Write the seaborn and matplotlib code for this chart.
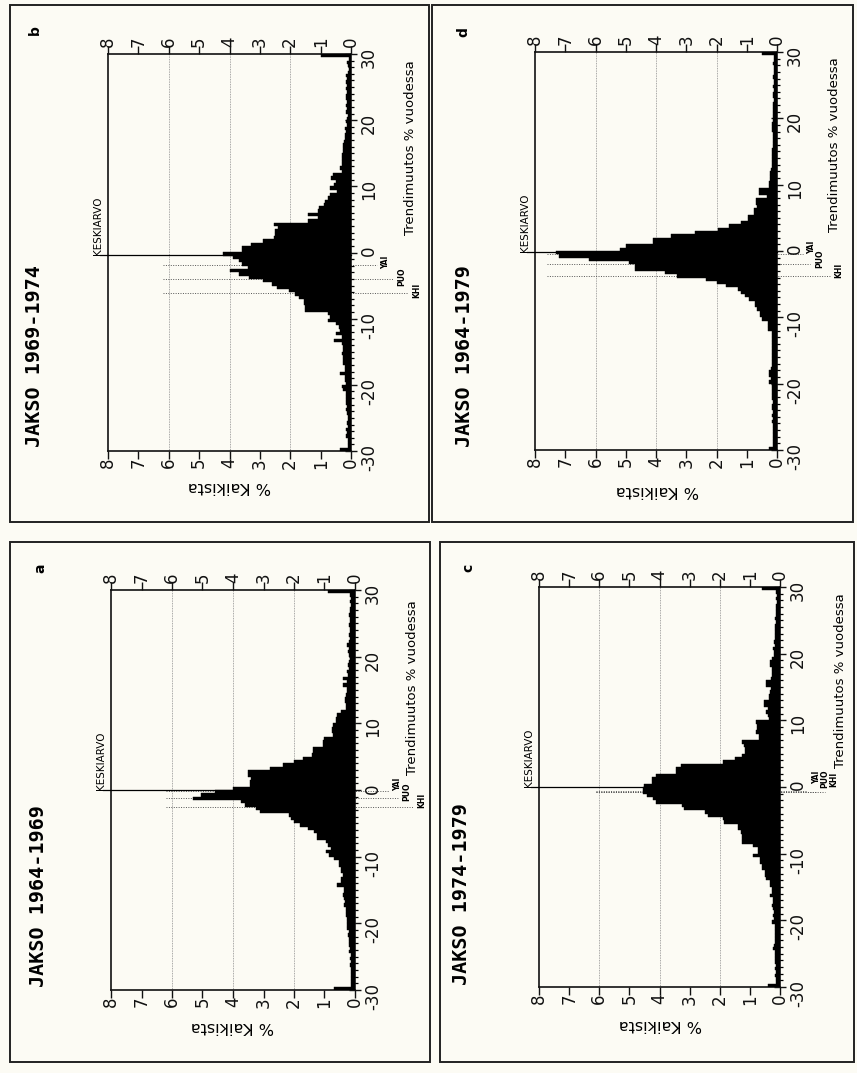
import numpy as np
import pandas as pd
import matplotlib
matplotlib.use("Agg")
import matplotlib.pyplot as plt
import seaborn as sns
from matplotlib.patches import Rectangle

# ---------------- data ----------------
# bins of 0.5 %-units from -30 to 30 (end bins collect the overflow)
bin_edges = [float(v) for v in np.arange(-30.0, 30.01, 0.5)]
bin_centers = [(bin_edges[i] + bin_edges[i + 1]) / 2 for i in range(len(bin_edges) - 1)]

# % of all, listed from -29.75 up to +29.75
pct_b = [0.35, 0.10, 0.10, 0.10, 0.15, 0.12, 0.15, 0.10, 0.12, 0.10,
         0.10, 0.12, 0.15, 0.12, 0.15, 0.15, 0.15, 0.15, 0.25, 0.30,
         0.15, 0.20, 0.20, 0.35, 0.20, 0.20, 0.25, 0.25, 0.25, 0.30,
         0.25, 0.25, 0.30, 0.55, 0.30, 0.50, 0.35, 0.40, 0.50, 0.75,
         0.70, 0.75, 1.50, 1.50, 1.55, 1.55, 1.70, 1.85, 2.05, 2.45,
         2.60, 2.90, 3.35, 3.70, 4.00, 3.40, 3.60, 3.70, 3.90, 4.20,
         3.60, 3.60, 3.30, 2.90, 2.55, 2.50, 2.50, 2.40, 2.55, 1.40,
         1.10, 1.40, 1.10, 1.05, 0.90, 0.85, 0.75, 0.70, 0.45, 0.70,
         0.55, 0.50, 0.65, 0.60, 0.30, 0.35, 0.30, 0.30, 0.30, 0.28,
         0.25, 0.25, 0.25, 0.22, 0.20, 0.20, 0.15, 0.20, 0.12, 0.15,
         0.12, 0.10, 0.18, 0.12, 0.15, 0.12, 0.18, 0.15, 0.12, 0.15,
         0.12, 0.15, 0.12, 0.15, 0.10, 0.05, 0.10, 0.12, 0.05, 1.00]

pct_d = [0.28, 0.12, 0.12, 0.13, 0.12, 0.13, 0.14, 0.13, 0.15, 0.13,
         0.15, 0.14, 0.15, 0.15, 0.14, 0.17, 0.15, 0.17, 0.15, 0.17,
         0.25, 0.20, 0.25, 0.25, 0.20, 0.17, 0.15, 0.17, 0.15, 0.17,
         0.15, 0.17, 0.17, 0.15, 0.17, 0.17, 0.30, 0.30, 0.30, 0.50,
         0.55, 0.55, 0.66, 0.72, 0.72, 0.93, 1.05, 1.20, 1.30, 1.70,
         2.00, 2.35, 3.30, 3.70, 4.70, 4.70, 4.90, 6.20, 7.20, 7.30,
         5.20, 5.00, 4.10, 4.10, 3.50, 2.70, 1.95, 1.60, 1.20, 0.97,
         0.97, 0.75, 0.75, 0.65, 0.70, 0.70, 0.32, 0.60, 0.60, 0.27,
         0.27, 0.24, 0.24, 0.24, 0.20, 0.16, 0.15, 0.15, 0.15, 0.16,
         0.15, 0.14, 0.13, 0.13, 0.14, 0.13, 0.15, 0.15, 0.16, 0.14,
         0.12, 0.12, 0.14, 0.12, 0.12, 0.10, 0.12, 0.12, 0.10, 0.12,
         0.10, 0.10, 0.12, 0.10, 0.10, 0.10, 0.12, 0.10, 0.10, 0.50]

pct_a = [0.69, 0.13, 0.12, 0.14, 0.12, 0.14, 0.13, 0.15, 0.14, 0.15,
         0.14, 0.20, 0.18, 0.20, 0.20, 0.20, 0.22, 0.20, 0.25, 0.27,
         0.25, 0.25, 0.30, 0.28, 0.30, 0.36, 0.33, 0.36, 0.40, 0.36,
         0.36, 0.58, 0.47, 0.47, 0.40, 0.47, 0.47, 0.52, 0.52, 0.69,
         0.85, 0.96, 0.80, 0.90, 0.96, 1.25, 1.25, 1.35, 1.55, 1.80,
         2.00, 2.10, 2.15, 3.10, 3.25, 3.60, 3.75, 5.30, 5.05, 4.60,
         4.00, 3.45, 3.45, 3.40, 3.50, 3.50, 2.80, 2.35, 2.00, 1.70,
         1.42, 1.37, 1.37, 1.04, 1.04, 1.00, 0.72, 0.77, 0.77, 0.72,
         0.61, 0.63, 0.60, 0.45, 0.28, 0.28, 0.34, 0.34, 0.30, 0.25,
         0.25, 0.39, 0.25, 0.39, 0.23, 0.25, 0.20, 0.22, 0.20, 0.18,
         0.20, 0.22, 0.20, 0.25, 0.20, 0.17, 0.20, 0.15, 0.17, 0.20,
         0.15, 0.17, 0.20, 0.15, 0.15, 0.13, 0.15, 0.12, 0.15, 0.88]

pct_c = [0.40, 0.14, 0.12, 0.15, 0.13, 0.15, 0.14, 0.17, 0.15, 0.17,
         0.15, 0.22, 0.20, 0.15, 0.17, 0.15, 0.18, 0.17, 0.17, 0.28,
         0.20, 0.23, 0.20, 0.23, 0.25, 0.23, 0.23, 0.34, 0.28, 0.28,
         0.34, 0.34, 0.45, 0.50, 0.50, 0.60, 0.60, 0.67, 0.67, 0.90,
         0.72, 0.72, 0.90, 1.25, 1.25, 1.25, 1.30, 1.40, 1.40, 1.85,
         1.90, 2.40, 2.50, 3.20, 3.25, 4.10, 4.20, 4.40, 4.55, 4.55,
         4.50, 4.25, 4.25, 4.10, 3.45, 3.45, 3.30, 1.90, 1.50, 1.25,
         1.15, 1.15, 1.20, 1.25, 0.70, 0.70, 0.80, 0.75, 0.75, 0.80,
         0.37, 0.40, 0.45, 0.40, 0.54, 0.54, 0.37, 0.35, 0.32, 0.30,
         0.48, 0.48, 0.30, 0.26, 0.28, 0.25, 0.32, 0.32, 0.26, 0.20,
         0.20, 0.22, 0.18, 0.20, 0.15, 0.17, 0.15, 0.15, 0.16, 0.13,
         0.15, 0.13, 0.14, 0.12, 0.13, 0.10, 0.12, 0.10, 0.12, 0.60]

titles = {"b": "JAKSO 1969-1974", "d": "JAKSO 1964-1979",
          "a": "JAKSO 1964-1969", "c": "JAKSO 1974-1979"}
means = {"b": -0.4, "d": -0.1, "a": 0.0, "c": 0.0}
marker_names = ["YAI", "PUO", "KHI"]
marker_vals = {"b": [-1.9, -4.0, -6.1], "d": [-0.4, -2.0, -3.8],
               "a": [-0.1, -1.2, -2.5], "c": [-0.6, -0.7, -0.8]}
pct_ticks = [0, 1, 2, 3, 4, 5, 6, 7, 8]
trend_ticks = [-30, -20, -10, 0, 10, 20, 30]
trend_labels = ["-30", "-20", "-10", "0", "10", "20", "30"]
values = {"b": pct_b, "d": pct_d, "a": pct_a, "c": pct_c}

# ---------------- layout (pixels of the 857x1073 page) ----------------
W, H = 857, 1073
layout = {
    "b": dict(ax=(108, 54, 351, 451), title=(35, 447), letter=(35, 30),
              kaik=(229, 487), trend=(410, 60), line0=6.2,
              labx=[-1.15, -1.68, -2.18], laboff=0.4),
    "d": dict(ax=(535, 52, 777, 450), title=(465, 447), letter=(463, 32),
              kaik=(657, 490), trend=(835, 57), line0=7.6,
              labx=[-1.15, -1.4, -2.05], laboff=0.9),
    "a": dict(ax=(111, 590, 355, 990), title=(38, 987), letter=(40, 568),
              kaik=(232, 1027), trend=(413, 600), line0=6.2,
              labx=[-1.4, -1.7, -2.2], laboff=1.0),
    "c": dict(ax=(539, 587, 780, 987), title=(462, 985), letter=(468, 568),
              kaik=(660, 1025), trend=(840, 593), line0=6.1,
              labx=[-1.2, -1.5, -1.8], laboff=2.0),
}
boxes = [(10, 5, 429, 522), (432, 5, 853, 522), (10, 542, 430, 1062), (440, 542, 854, 1062)]

BG = "#fcfbf4"
NARROW = ["Liberation Sans Narrow", "DejaVu Sans"]

fig = plt.figure(figsize=(W / 100, H / 100), dpi=100)
fig.patch.set_facecolor(BG)


def fx(px):
    return px / W


def fy(py):
    return 1 - py / H


for (x0, y0, x1, y1) in boxes:
    fig.add_artist(Rectangle((fx(x0), fy(y1)), (x1 - x0) / W, (y1 - y0) / H,
                             fill=False, lw=1.4, ec="#222222",
                             transform=fig.transFigure))

for key in ["b", "d", "a", "c"]:
    L = layout[key]
    x0, y0, x1, y1 = L["ax"]
    ax = fig.add_axes([fx(x0), fy(y1), (x1 - x0) / W, (y1 - y0) / H])
    ax.set_facecolor("none")

    df = pd.DataFrame({"trend": bin_centers, "pct": values[key]})
    try:
        sns.histplot(data=df, y="trend", weights="pct", bins=bin_edges,
                     color="black", alpha=1.0, edgecolor="black",
                     linewidth=0.3, ax=ax, zorder=3)
    except Exception:
        sns.barplot(data=df, y="trend", x="pct", orient="h",
                    native_scale=True, width=1.0, color="black",
                    errorbar=None, saturation=1, linewidth=0.3,
                    edgecolor="black", ax=ax, zorder=3)

    ax.set_xlim(8, 0)
    ax.set_ylim(-30, 30)
    ax.set_xlabel("")
    ax.set_ylabel("")

    # % axis (top and bottom)
    ax.set_xticks(pct_ticks)
    ax.set_xticklabels([str(v) for v in pct_ticks])
    ax.tick_params(axis="x", top=True, bottom=True, labeltop=True,
                   labelbottom=True, direction="out", length=6, width=1.0,
                   pad=-1.0, labelsize=12, labelrotation=90, colors="#111111")
    # trend axis (right)
    ax.yaxis.tick_right()
    ax.set_yticks(trend_ticks)
    ax.set_yticklabels(trend_labels)
    ax.set_yticks(np.arange(-30, 31, 1), minor=True)
    ax.tick_params(axis="y", which="major", left=False, right=True,
                   direction="inout", length=9, width=1.0, pad=2,
                   labelsize=12, labelrotation=90, colors="#111111")
    ax.tick_params(axis="y", which="minor", left=False, right=True,
                   direction="inout", length=5, width=0.9)
    for lab in ax.get_xticklabels() + ax.get_yticklabels():
        lab.set_family(NARROW)
    for sp in ax.spines.values():
        sp.set_linewidth(1.2)
        sp.set_color("#111111")

    for g in (2, 4, 6):
        ax.axvline(g, color="#8c8c8c", lw=0.6, ls=(0, (1, 1)), zorder=0)

    # mean line with label
    m = means[key]
    ax.plot([0, 8.25], [m, m], color="black", lw=0.9, clip_on=False, zorder=4)
    ax.text(8.32, m, "KESKIARVO", rotation=90, rotation_mode="anchor",
            ha="left", va="center", fontsize=7.5, family=NARROW, clip_on=False)

    # regional markers
    for name, t, lx in zip(marker_names, marker_vals[key], L["labx"]):
        ax.plot([L["line0"], lx + 0.3], [t, t], color="#555555", lw=0.7,
                ls=(0, (1, 1.5)), clip_on=False, zorder=1)
        ax.text(lx, t + L["laboff"], name, rotation=90, ha="center",
                va="center", fontsize=5.5, weight="bold", clip_on=False)

    # texts around the panel (page is turned, so all text is rotated)
    tx, ty = L["title"]
    fig.text(fx(tx), fy(ty), titles[key], rotation=90, rotation_mode="anchor",
             ha="left", va="center", fontsize=14.5, weight="bold",
             family="DejaVu Sans Mono")
    lx_, ly_ = L["letter"]
    fig.text(fx(lx_), fy(ly_), key, rotation=90, ha="center", va="center",
             fontsize=10, weight="bold")
    kx, ky = L["kaik"]
    fig.text(fx(kx), fy(ky), "% Kaikista", rotation=180, ha="center",
             va="center", fontsize=11.5, family=NARROW)
    trx, tr_y = L["trend"]
    fig.text(fx(trx), fy(tr_y), "Trendimuutos % vuodessa", rotation=90,
             rotation_mode="anchor", ha="right", va="center", fontsize=9.5,
             family=NARROW)

fig.savefig("out.png", dpi=100, facecolor=BG)
